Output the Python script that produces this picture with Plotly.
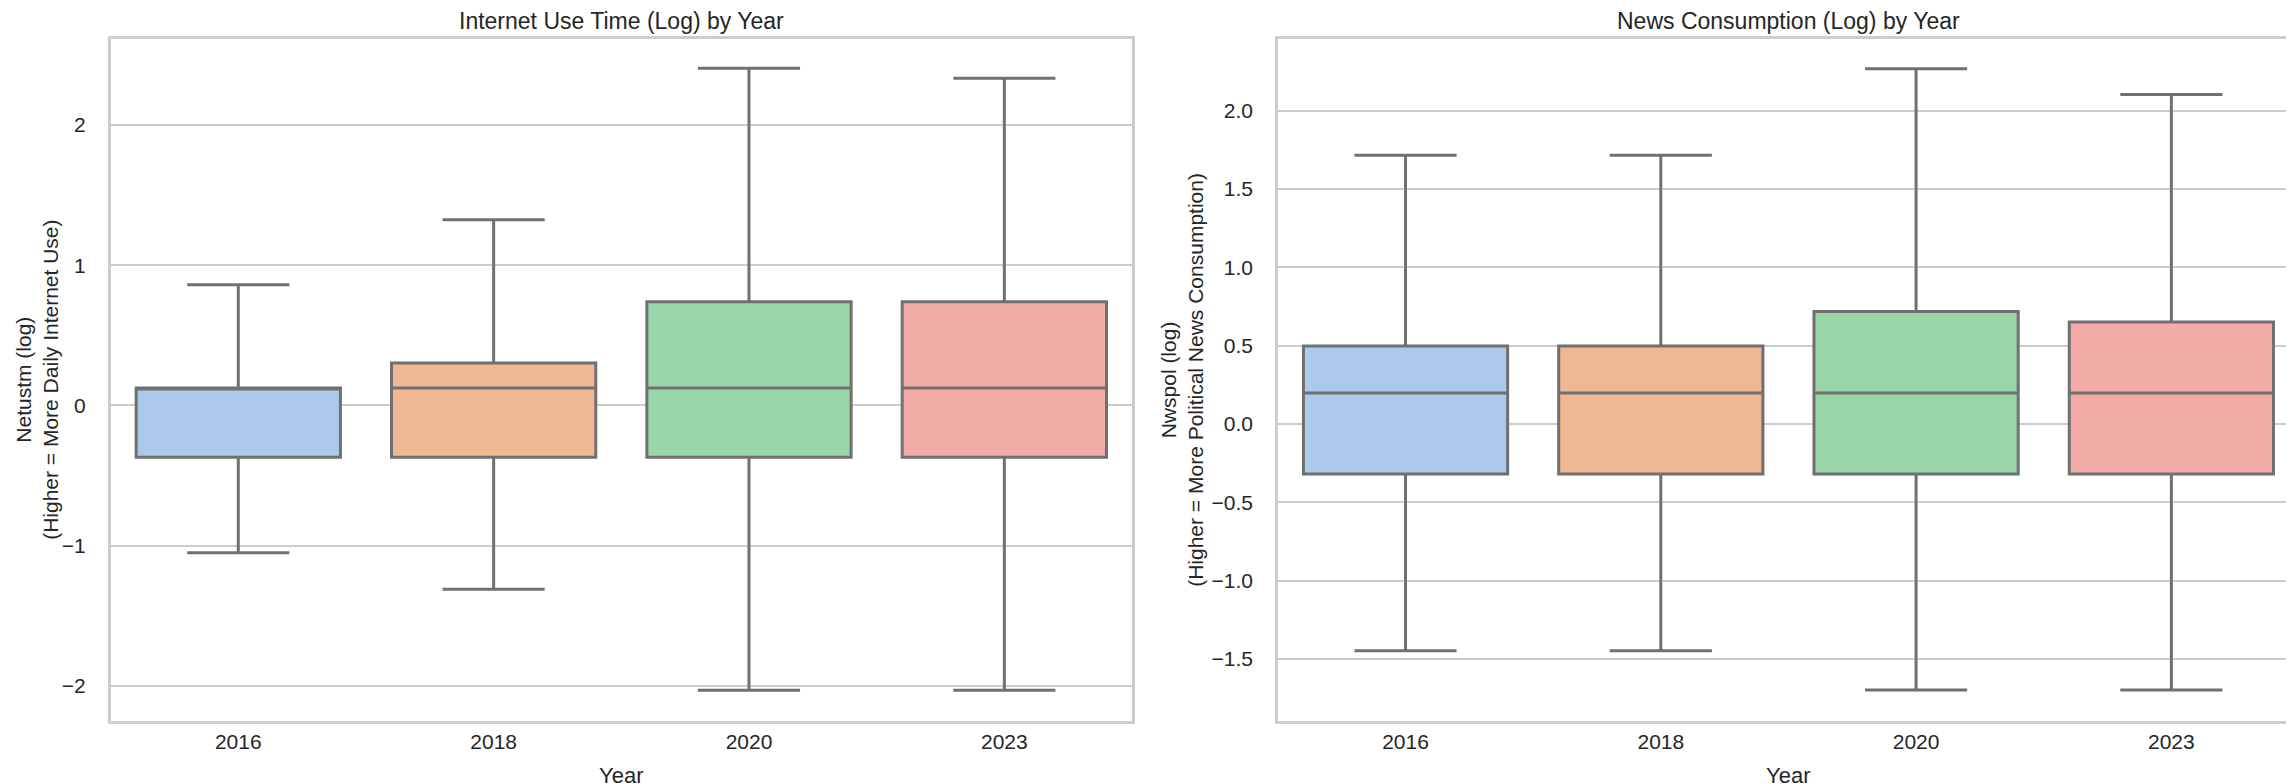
import plotly.graph_objects as go

years = ["2016", "2018", "2020", "2023"]
box_colors = ["#abc9ea", "#efb792", "#98d6a7", "#f2aba7"]

# Internet use time (log)
net_lower = [-1.05, -1.31, -2.03, -2.03]
net_q1 = [-0.37, -0.37, -0.37, -0.37]
net_median = [0.125, 0.125, 0.125, 0.125]
net_q3 = [0.125, 0.303, 0.74, 0.74]
net_upper = [0.861, 1.324, 2.403, 2.332]

# News consumption (log)
news_lower = [-1.447, -1.447, -1.697, -1.697]
news_q1 = [-0.319, -0.319, -0.319, -0.319]
news_median = [0.198, 0.198, 0.198, 0.198]
news_q3 = [0.498, 0.498, 0.718, 0.651]
news_upper = [1.715, 1.715, 2.267, 2.103]

W, H = 2294, 784
FONT = "Liberation Sans, Arial, sans-serif"
LINE = "#707070"
GRID = "#cccccc"
TXT = "#262626"

fig = go.Figure()

def add_boxes(lower, q1, med, q3, upper, xa, ya):
    for i, yr in enumerate(years):
        fig.add_trace(go.Box(
            x=[yr], lowerfence=[lower[i]], q1=[q1[i]], median=[med[i]],
            q3=[q3[i]], upperfence=[upper[i]],
            fillcolor=box_colors[i], line=dict(color=LINE, width=3),
            whiskerwidth=0.5, width=0.8, boxpoints=False,
            xaxis=xa, yaxis=ya, showlegend=False,
        ))

add_boxes(net_lower, net_q1, net_median, net_q3, net_upper, "x", "y")
add_boxes(news_lower, news_q1, news_median, news_q3, news_upper, "x2", "y2")

y_dom = [1 - 713 / H, 1 - 30.7 / H]
x1_dom = [102.7 / W, 1125 / W]
x2_dom = [1271 / W, 2293 / W]

xcommon = dict(type="category", categoryorder="array", categoryarray=years,
               range=[-0.5, 3.5], showgrid=False, zeroline=False,
               showline=True, linecolor=GRID, linewidth=2.5, mirror=True,
               ticks="", tickfont=dict(family=FONT, size=21, color=TXT),
               ticklabelstandoff=0)
ycommon = dict(showgrid=True, gridcolor=GRID, gridwidth=1.6, zeroline=False,
               showline=True, linecolor=GRID, linewidth=2.5, mirror=True,
               ticks="", tickfont=dict(family=FONT, size=21, color=TXT),
               ticklabelstandoff=18)

fig.update_layout(
    width=W, height=H,
    margin=dict(l=0, r=0, t=0, b=0),
    paper_bgcolor="white", plot_bgcolor="white",
    boxmode="overlay",
    xaxis=dict(domain=x1_dom, anchor="y", **xcommon),
    xaxis2=dict(domain=x2_dom, anchor="y2", **xcommon),
    yaxis=dict(domain=y_dom, anchor="x", range=[-2.249, 2.614], dtick=1,
               tick0=0, **ycommon),
    yaxis2=dict(domain=y_dom, anchor="x2", range=[-1.895, 2.459], dtick=0.5,
                tick0=0, tickformat=".1f", **ycommon),
)

title_font = dict(family=FONT, size=23, color=TXT)
ann_font = dict(family=FONT, size=22, color=TXT)
annotations = [
    dict(text="Internet Use Time (Log) by Year", x=(x1_dom[0] + x1_dom[1]) / 2,
         y=1 - 13 / H, xref="paper", yref="paper", showarrow=False,
         xanchor="center", yanchor="middle", font=title_font),
    dict(text="News Consumption (Log) by Year", x=(x2_dom[0] + x2_dom[1]) / 2,
         y=1 - 13 / H, xref="paper", yref="paper", showarrow=False,
         xanchor="center", yanchor="middle", font=title_font),
    dict(text="Year", x=(x1_dom[0] + x1_dom[1]) / 2, y=1 - 767 / H,
         xref="paper", yref="paper", showarrow=False, xanchor="center",
         yanchor="middle", font=ann_font),
    dict(text="Year", x=(x2_dom[0] + x2_dom[1]) / 2, y=1 - 767 / H,
         xref="paper", yref="paper", showarrow=False, xanchor="center",
         yanchor="middle", font=ann_font),
    dict(text="Netustm (log)<br>(Higher = More Daily Internet Use)",
         x=2 / W, y=(y_dom[0] + y_dom[1]) / 2, xref="paper", yref="paper",
         showarrow=False, textangle=-90, xanchor="left", yanchor="middle",
         font=dict(family=FONT, size=21, color=TXT)),
    dict(text="Nwspol (log)<br>(Higher = More Political News Consumption)",
         x=1175 / W, y=(y_dom[0] + y_dom[1]) / 2, xref="paper", yref="paper",
         showarrow=False, textangle=-90, xanchor="center", yanchor="middle",
         font=dict(family=FONT, size=21, color=TXT)),
]
fig.update_layout(annotations=annotations)

fig.write_html("out.html")
